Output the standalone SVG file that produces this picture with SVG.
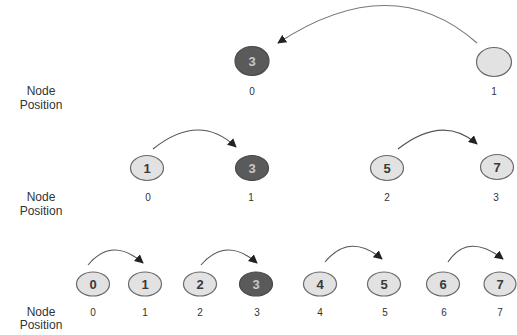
<svg xmlns="http://www.w3.org/2000/svg" width="517" height="335" viewBox="0 0 517 335">
<style>
.lt{fill:#e2e2e2;stroke:#6a6a6a;stroke-width:1.2}
.dk{fill:#5a5a5a;stroke:#4a4a4a;stroke-width:1.2}
.nt{font-family:"Liberation Sans",Arial,sans-serif;font-size:13px;font-weight:bold;fill:#3a3a3a;text-anchor:middle}
.dt{font-family:"Liberation Sans",Arial,sans-serif;font-size:13px;font-weight:bold;fill:#c8c8c8;text-anchor:middle}
.pl{font-family:"Liberation Sans",Arial,sans-serif;font-size:10px;fill:#333;text-anchor:middle}
.hd{font-family:"Liberation Sans",Arial,sans-serif;font-size:12px;fill:#333;text-anchor:middle}
.arc{fill:none;stroke:#555;stroke-width:1.1;marker-end:url(#ah)}
.arc1{stroke:#777}
</style>
<defs>
<marker id="ah" viewBox="0 0 10 10" refX="9" refY="5" markerWidth="9" markerHeight="9" markerUnits="userSpaceOnUse" orient="auto">
<path d="M0,0 L10,5 L0,10 z" fill="#222"/>
</marker>
</defs>
<g id="connectors">
<path class="arc arc1" d="M477,43 Q392,-32 278,43"/>
<path class="arc" d="M153,149 Q199,112 236,147"/>
<path class="arc" d="M398,149 Q443,114 477,144"/>
<path class="arc" d="M88,265 Q112,236 143,263"/>
<path class="arc" d="M201,265 Q226,236 257,263"/>
<path class="arc" d="M325,262 Q350,232 382,259"/>
<path class="arc" d="M448,262 Q468,232 503,259"/>
</g>
<g id="labels">
<text class="hd" x="41" y="95">Node</text><text class="hd" x="41" y="109">Position</text>
<text class="hd" x="41" y="201">Node</text><text class="hd" x="41" y="215">Position</text>
<text class="hd" x="41" y="316">Node</text><text class="hd" x="41" y="329">Position</text>
</g>
<g id="row1-n0"><ellipse class="dk" cx="252" cy="61" rx="17" ry="14.5"/><text class="dt" x="252" y="66">3</text><text class="pl" x="252" y="95">0</text></g>
<g id="row1-n1"><ellipse class="lt" cx="494" cy="62" rx="17.5" ry="14.5"/><text class="pl" x="494" y="95">1</text></g>
<g id="row2-n0"><ellipse class="lt" cx="147" cy="168" rx="16.5" ry="12.5"/><text class="nt" x="147" y="173">1</text><text class="pl" x="148" y="201">0</text></g>
<g id="row2-n1"><ellipse class="dk" cx="252" cy="168" rx="16.5" ry="12.5"/><text class="dt" x="252" y="173">3</text><text class="pl" x="251" y="201">1</text></g>
<g id="row2-n2"><ellipse class="lt" cx="387" cy="168" rx="16.5" ry="12.5"/><text class="nt" x="387" y="173">5</text><text class="pl" x="387" y="201">2</text></g>
<g id="row2-n3"><ellipse class="lt" cx="497" cy="167" rx="16.5" ry="12.5"/><text class="nt" x="497" y="172">7</text><text class="pl" x="496" y="201">3</text></g>
<g id="row3-n0"><ellipse class="lt" cx="93" cy="284" rx="16.5" ry="12"/><text class="nt" x="93" y="289">0</text><text class="pl" x="93" y="316">0</text></g>
<g id="row3-n1"><ellipse class="lt" cx="145" cy="284" rx="16.5" ry="12"/><text class="nt" x="145" y="289">1</text><text class="pl" x="145" y="316">1</text></g>
<g id="row3-n2"><ellipse class="lt" cx="200" cy="284" rx="16.5" ry="12"/><text class="nt" x="200" y="289">2</text><text class="pl" x="200" y="316">2</text></g>
<g id="row3-n3"><ellipse class="dk" cx="256" cy="284" rx="16.5" ry="12"/><text class="dt" x="256" y="289">3</text><text class="pl" x="257" y="316">3</text></g>
<g id="row3-n4"><ellipse class="lt" cx="320" cy="284" rx="16.5" ry="12"/><text class="nt" x="320" y="289">4</text><text class="pl" x="320" y="316">4</text></g>
<g id="row3-n5"><ellipse class="lt" cx="384" cy="284" rx="16.5" ry="12"/><text class="nt" x="384" y="289">5</text><text class="pl" x="385" y="316">5</text></g>
<g id="row3-n6"><ellipse class="lt" cx="443" cy="284" rx="16.5" ry="12"/><text class="nt" x="443" y="289">6</text><text class="pl" x="444" y="316">6</text></g>
<g id="row3-n7"><ellipse class="lt" cx="500" cy="284" rx="16" ry="12"/><text class="nt" x="500" y="289">7</text><text class="pl" x="500" y="316">7</text></g>
</svg>
